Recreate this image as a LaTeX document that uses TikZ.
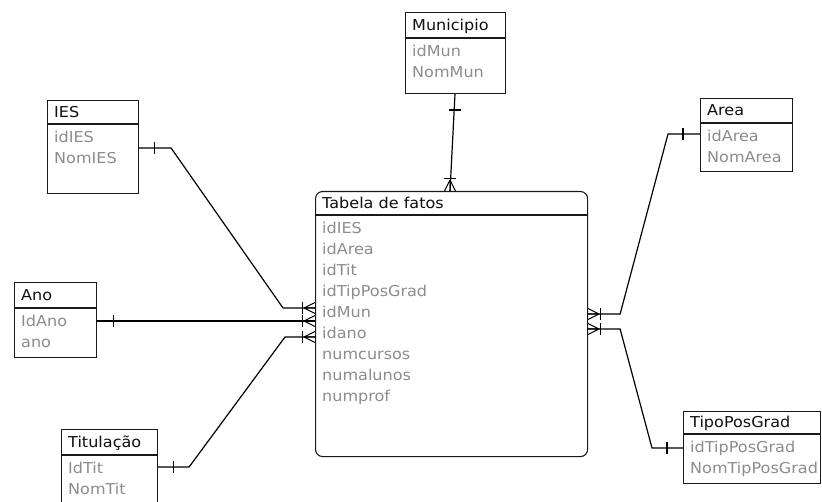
\documentclass[tikz,border=0pt]{standalone}
\usepackage{fontspec}
\setmainfont{DejaVu Sans}[FakeStretch=1.07]
\usetikzlibrary{calc}

\definecolor{edge}{RGB}{25,25,25}
\definecolor{titletext}{RGB}{15,15,15}
\definecolor{fieldtext}{RGB}{140,140,140}

% one entity: name, left, top, width, height, header height, title, fields
\newcommand\erentity[8]{%
  \node[ebox, minimum width=#4pt, minimum height=#5pt, anchor=north west] (#1) at (#2,#3) {};
  \draw[boxline] ($(#1.north west)+(0,#6)$) -- ($(#1.north east)+(0,#6)$);
  \node[etitle] (#1-t) at ($(#1.north west)+(7,#6/2+5.5)$) {#7};
  \foreach \fld [count=\i] in {#8}
    \node[efield] (#1-f\i) at ($(#1.north west)+(7,#6+18.5+21*\i-21)$) {\fld};
}

\tikzset{
  ebox/.style={draw=edge, line width=1.1pt, fill=white, inner sep=0pt},
  boxline/.style={draw=edge, line width=1.1pt},
  etitle/.style={anchor=base west, inner sep=0pt, text=titletext, font=\fontsize{15}{15}\selectfont},
  efield/.style={anchor=base west, inner sep=0pt, text=fieldtext, font=\fontsize{15}{15}\selectfont},
  rel/.style={draw=black, line width=1.2pt},
  crowfoot/.pic={
    \draw[rel, line width=1pt] (-11,0) -- (0,-5.5) (-11,0) -- (0,0) (-11,0) -- (0,5.5);
    \draw[rel] (-12.5,-6) -- (-12.5,6);
  },
  onebar/.pic={\draw[rel] (0,-6) -- (0,6);}
}

\begin{document}
\begin{tikzpicture}[x=1pt, y=-1pt]
\clip (0,0) rectangle (822,502);
\fill[white] (0,0) rectangle (822,502);

% fact table
\node[ebox, rounded corners=7pt, minimum width=272pt, minimum height=265pt, anchor=north west] (fact) at (315,191) {};
\draw[boxline] ($(fact.north west)+(0,24)$) -- ($(fact.north east)+(0,24)$);
\node[etitle] (fact-t) at ($(fact.north west)+(7,17.5)$) {Tabela de fatos};
\foreach \fld [count=\i] in {idIES,idArea,idTit,idTipPosGrad,idMun,idano,numcursos,numalunos,numprof}
  \node[efield] (fact-f\i) at ($(fact.north west)+(7,42.5+21*\i-21)$) {\fld};

% dimension tables
\erentity{mun}{405}{12}{100}{81}{26}{Municipio}{idMun,NomMun}
\erentity{ies}{47}{100}{91}{93}{24}{IES}{idIES,NomIES}
\erentity{area}{700}{98}{92}{73}{25}{Area}{idArea,NomArea}
\erentity{ano}{14}{282}{82}{75}{26}{Ano}{IdAno,ano}
\erentity{tit}{61}{429}{96}{95}{26}{Titulação}{IdTit,NomTit}
\erentity{tipo}{683}{411}{137}{72}{23}{TipoPosGrad}{idTipPosGrad,NomTipPosGrad}

% relationships
\draw[rel] ($(mun.south west)+(50,0)$) coordinate (mun-p) -- ($(fact.north west)+(135,0)$) coordinate (fact-top);
\pic[rotate=90] at ($(mun-p)+(0,16)$) {onebar};
\pic[rotate=-90] at (fact-top) {crowfoot};

\draw[rel] ($(ies.north east)+(0,48)$) coordinate (ies-p) -- ++(32,0)
  -- ($(fact.north west)+(-32,117)$) -- ($(fact.north west)+(0,117)$) coordinate (fact-l1);
\pic at ($(ies-p)+(15,0)$) {onebar};
\pic at (fact-l1) {crowfoot};

\draw[rel] ($(ano.north east)+(0,39)$) coordinate (ano-p) -- ($(fact.north west)+(0,130)$) coordinate (fact-l2);
\pic at ($(ano-p)+(16,0)$) {onebar};
\pic at (fact-l2) {crowfoot};

\draw[rel] ($(tit.north east)+(0,38)$) coordinate (tit-p) -- ++(31,0)
  -- ($(fact.north west)+(-30,146)$) -- ($(fact.north west)+(0,146)$) coordinate (fact-l3);
\pic at ($(tit-p)+(15,0)$) {onebar};
\pic at (fact-l3) {crowfoot};

\draw[rel] ($(area.north west)+(0,36)$) coordinate (area-p) -- ++(-32,0)
  -- ($(fact.north east)+(32,123)$) -- ($(fact.north east)+(0,123)$) coordinate (fact-r1);
\pic at ($(area-p)+(-17,0)$) {onebar};
\pic[rotate=180] at (fact-r1) {crowfoot};

\draw[rel] ($(tipo.north west)+(0,37)$) coordinate (tipo-p) -- ++(-31,0)
  -- ($(fact.north east)+(32,138)$) -- ($(fact.north east)+(0,138)$) coordinate (fact-r2);
\pic at ($(tipo-p)+(-16,0)$) {onebar};
\pic[rotate=180] at (fact-r2) {crowfoot};
\end{tikzpicture}
\end{document}
